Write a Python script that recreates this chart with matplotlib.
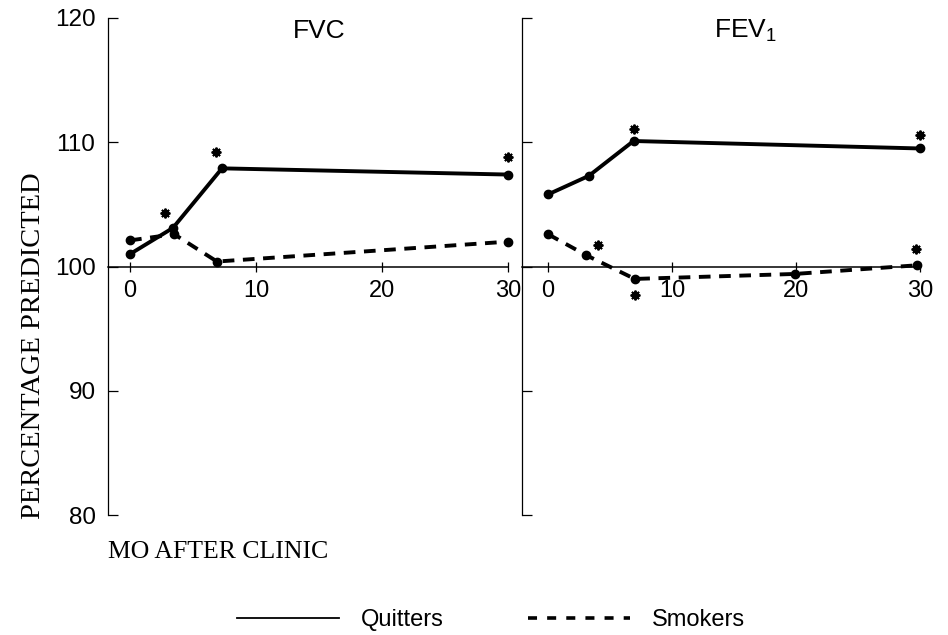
import matplotlib
matplotlib.use("Agg")
import matplotlib.pyplot as plt
from matplotlib.lines import Line2D

plt.rcParams['font.family'] = ['Liberation Sans', 'DejaVu Sans']
plt.rcParams['mathtext.default'] = 'regular'

# FVC panel
fvc_q_mo = [0, 3.4, 7.3, 30]
fvc_q = [101.0, 103.1, 107.9, 107.4]
fvc_s_mo = [0, 3.5, 6.9, 30]
fvc_s = [102.1, 102.6, 100.4, 102.0]
fvc_star_mo = [2.8, 6.8, 30]
fvc_star = [104.3, 109.2, 108.8]

# FEV1 panel
fev_q_mo = [0, 3.3, 6.9, 30]
fev_q = [105.8, 107.3, 110.1, 109.5]
fev_s_mo = [0, 3.1, 7.0, 19.9, 29.8]
fev_s = [102.6, 100.9, 99.0, 99.4, 100.1]
fev_star_mo = [4.0, 7.0, 29.7, 6.9, 30]
fev_star = [101.7, 97.7, 101.4, 111.1, 110.6]

xticks = [0, 10, 20, 30]
yticks = [80, 90, 100, 110, 120]

fig = plt.figure(figsize=(9.48, 6.35), dpi=100)
bot, h = 1 - 515/635, (515 - 18)/635
ax1 = fig.add_axes([108/948, bot, (515 - 108)/948, h])
ax2 = fig.add_axes([522/948, bot, (926 - 522)/948, h])

panels = [
    (ax1, (-1.75, 30.56), fvc_q_mo, fvc_q, fvc_s_mo, fvc_s, fvc_star_mo, fvc_star, 'FVC', 15),
    (ax2, (-2.1, 30.5), fev_q_mo, fev_q, fev_s_mo, fev_s, fev_star_mo, fev_star, 'FEV$_1$', 15.9),
]

for ax, xl, qx, qy, sx, sy, ax_star_x, ax_star_y, title, tx in panels:
    ax.set_xlim(*xl)
    ax.set_ylim(80, 120)
    for sp in ['top', 'right']:
        ax.spines[sp].set_visible(False)
    ax.spines['left'].set_linewidth(0.9)
    ax.spines['bottom'].set_position(('data', 100))
    ax.spines['bottom'].set_bounds(xl[0], 30)
    ax.spines['bottom'].set_linewidth(1.1)
    ax.set_xticks(xticks)
    ax.set_yticks(yticks)
    ax.tick_params(axis='y', direction='in', length=7.5, width=0.9, pad=9, labelsize=17.5)
    ax.tick_params(axis='x', direction='inout', length=7, width=0.9, pad=6, labelsize=17)
    ax.plot(qx, qy, '-', color='black', lw=2.8, marker='o', ms=6, zorder=3, clip_on=False)
    ax.plot(sx, sy, color='black', lw=2.8, ls=(0, (3, 2.2)), marker='o', ms=6, zorder=3, clip_on=False)
    ax.plot(ax_star_x, ax_star_y, ls='none', marker=(8, 2, 0), ms=7, mew=1.4, color='black', clip_on=False)
    ax.text(tx, 118.95, title, ha='center', va='center', fontsize=19)

ax2.tick_params(axis='y', labelleft=False)

fig.text(0.035, 0.456, 'PERCENTAGE PREDICTED', rotation=90, ha='center', va='center',
         fontsize=20.5, family='Liberation Serif')
fig.text(108/948, 1 - 552/635, 'MO AFTER CLINIC', ha='left', va='center',
         fontsize=18.5, family='Liberation Serif')

handles = [Line2D([], [], color='black', lw=1.3),
           Line2D([], [], color='black', lw=2.6, ls=(0, (2.5, 2.8)))]
fig.legend(handles, ['Quitters', 'Smokers'], loc='center', bbox_to_anchor=(0.518, 1 - 620/635),
           ncol=2, frameon=False, fontsize=17, handlelength=4.3, handletextpad=0.93,
           columnspacing=3.6)

fig.savefig('out.png', dpi=100)
